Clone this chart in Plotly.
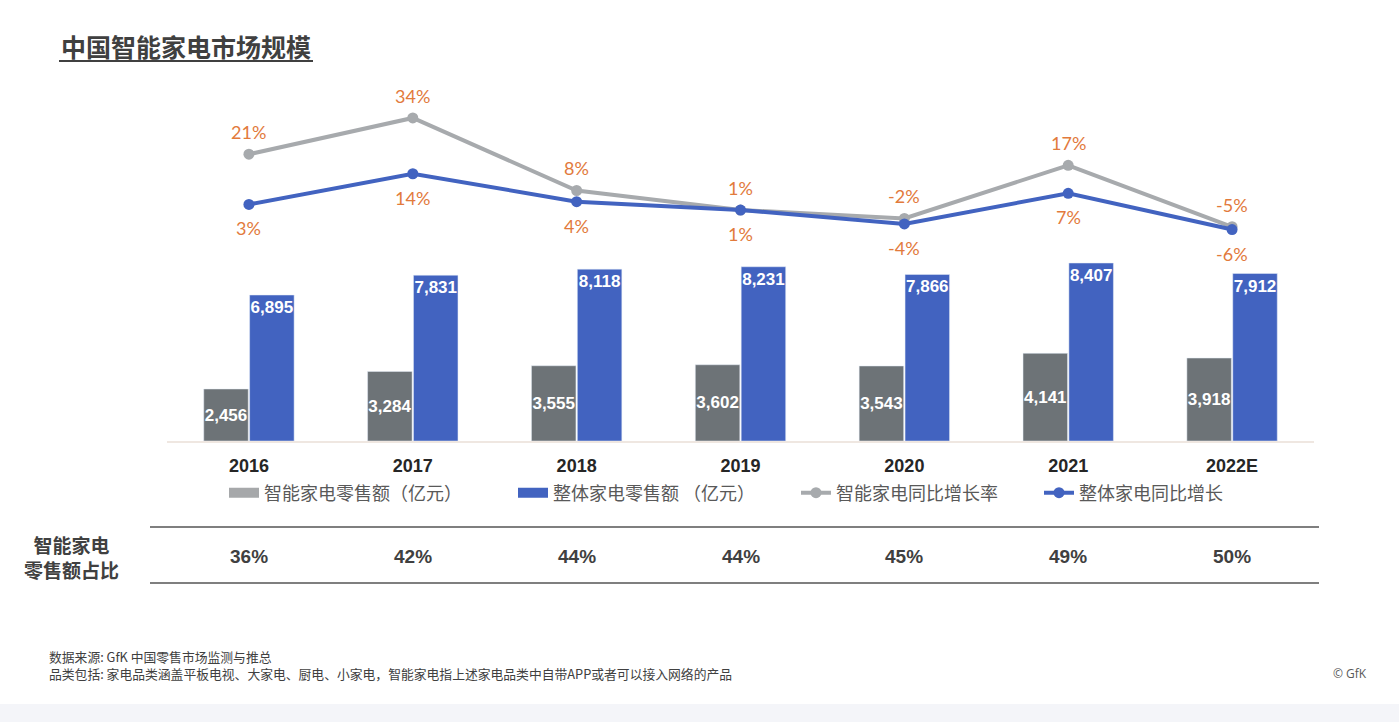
import plotly.graph_objects as go

W, H = 1399, 722

years = ["2016", "2017", "2018", "2019", "2020", "2021", "2022E"]
smart_sales = [2456, 3284, 3555, 3602, 3543, 4141, 3918]
total_sales = [6895, 7831, 8118, 8231, 7866, 8407, 7912]
smart_growth = [21, 34, 8, 1, -2, 17, -5]
total_growth = [3, 14, 4, 1, -4, 7, -6]
smart_share = ["36%", "42%", "44%", "44%", "45%", "49%", "50%"]

GRAY_BAR = "#6D7377"
GRAY_LEG = "#A6A8AA"
BLUE = "#4263C0"
GRAY_LINE = "#A7AAAD"
ORANGE = "#E27A3C"
TXT = "#404040"

def px_x(p):
    return p / W

def px_y(p):
    return 1 - p / H

fig = go.Figure()

bar_font = dict(family="Liberation Sans, Arial", size=17, color="white", weight="bold")
fig.add_trace(go.Bar(
    x=years, y=smart_sales, marker_color=GRAY_BAR, showlegend=False,
    texttemplate="%{y:,.0f}", textposition="inside", insidetextanchor="middle",
    textfont=bar_font, textangle=0,
    constraintext="none", name="智能家电零售额（亿元）", cliponaxis=False,
))
fig.add_trace(go.Bar(
    x=years, y=total_sales, marker_color=BLUE, showlegend=False,
    texttemplate="%{y:,.0f}", textposition="inside", insidetextanchor="end",
    textfont=bar_font, textangle=0,
    constraintext="none", name="整体家电零售额 （亿元）", cliponaxis=False,
))

# legend proxies for the bar series
fig.add_trace(go.Scatter(x=[None], y=[None], mode="lines", name="智能家电零售额（亿元）",
                         line=dict(color=GRAY_LEG, width=12), yaxis="y2", legend="legend"))
fig.add_trace(go.Scatter(x=[None], y=[None], mode="lines", name="整体家电零售额 （亿元）",
                         line=dict(color=BLUE, width=12), yaxis="y2", legend="legend2"))

fig.add_trace(go.Scatter(
    x=years, y=smart_growth, mode="lines+markers", name="智能家电同比增长率",
    line=dict(color=GRAY_LINE, width=4), marker=dict(size=11, color=GRAY_LINE),
    yaxis="y2", cliponaxis=False, legend="legend3",
))
fig.add_trace(go.Scatter(
    x=years, y=total_growth, mode="lines+markers", name="整体家电同比增长",
    line=dict(color=BLUE, width=4), marker=dict(size=11, color=BLUE),
    yaxis="y2", cliponaxis=False, legend="legend4",
))

annotations = []
lab_font = dict(family="Lato, Liberation Sans", size=18, color=ORANGE)
for i, v in enumerate(smart_growth):
    annotations.append(dict(x=i, y=v, xref="x", yref="y2", text=f"{v}%", showarrow=False,
                            yanchor="middle", xanchor="center", yshift=22, font=lab_font))
for i, v in enumerate(total_growth):
    annotations.append(dict(x=i, y=v, xref="x", yref="y2", text=f"{v}%", showarrow=False,
                            yanchor="middle", xanchor="center", yshift=-24, font=lab_font))

# share row
for i, s in enumerate(smart_share):
    annotations.append(dict(x=i, y=px_y(556), xref="x", yref="paper", text=f"<b>{s}</b>",
                            showarrow=False, yanchor="middle", xanchor="center",
                            font=dict(family="Liberation Sans, Arial", size=19, color=TXT)))
annotations.append(dict(x=px_x(71), y=px_y(557), xref="paper", yref="paper",
                        xanchor="center", yanchor="middle",
                        text="<b>智能家电<br>零售额占比</b>", showarrow=False, align="center",
                        font=dict(family="Noto Sans CJK SC", size=19, color=TXT)))

# title
annotations.append(dict(x=px_x(59), y=px_y(46), xref="paper", yref="paper", xanchor="left",
                        yanchor="middle",
                        text="<b>中国智能家电市场规模</b>", showarrow=False,
                        font=dict(family="Noto Sans CJK SC", size=25, color=TXT)))
# footnotes
annotations.append(dict(x=px_x(47), y=px_y(665), xref="paper", yref="paper", xanchor="left",
                        yanchor="middle", align="left", showarrow=False,
                        text="数据来源: GfK 中国零售市场监测与推总<br>品类包括: 家电品类涵盖平板电视、大家电、厨电、小家电，智能家电指上述家电品类中自带APP或者可以接入网络的产品",
                        font=dict(family="Noto Sans CJK SC", size=12.8, color=TXT)))
annotations.append(dict(x=px_x(1369), y=px_y(673), xref="paper", yref="paper", xanchor="right",
                        yanchor="middle", showarrow=False, text="© GfK",
                        font=dict(family="Open Sans", size=12, color="#595959")))

shapes = [
    dict(type="line", xref="paper", yref="paper", x0=px_x(59), x1=px_x(313), y0=px_y(61), y1=px_y(61),
         line=dict(color=TXT, width=2)),
    dict(type="line", xref="paper", yref="paper", x0=px_x(150), x1=px_x(1319), y0=px_y(527), y1=px_y(527),
         line=dict(color="#7F7F7F", width=2)),
    dict(type="line", xref="paper", yref="paper", x0=px_x(150), x1=px_x(1319), y0=px_y(583), y1=px_y(583),
         line=dict(color="#7F7F7F", width=2)),
    dict(type="rect", xref="paper", yref="paper", x0=0, x1=1, y0=0, y1=px_y(704),
         fillcolor="#F4F5F9", line=dict(width=0), layer="below"),
]

leg_common = dict(orientation="h", yanchor="middle", xanchor="left", y=px_y(493),
                  font=dict(family="Noto Sans CJK SC", size=18, color="#595959"),
                  bgcolor="rgba(0,0,0,0)", itemwidth=30)

fig.update_layout(
    width=W, height=H,
    margin=dict(l=0, r=0, t=0, b=0),
    paper_bgcolor="white", plot_bgcolor="rgba(0,0,0,0)",
    barmode="group", bargap=0.44, bargroupgap=0.03,
    xaxis=dict(domain=[px_x(167), px_x(1314)], range=[-0.5, 6.5], type="category",
               showline=True, linecolor="#EFE7E1", linewidth=1.5, ticks="",
               showgrid=False, zeroline=False, ticklabelstandoff=8,
               tickfont=dict(family="Liberation Sans, Arial", size=18, color="#262626", weight="bold")),
    yaxis=dict(domain=[px_y(441), px_y(229.3)], range=[0, 10000], visible=False, showgrid=False),
    yaxis2=dict(domain=[px_y(300), px_y(100)], range=[-31.25, 40.43], visible=False,
                showgrid=False, anchor="x"),
    legend=dict(leg_common, x=px_x(224)),
    legend2=dict(leg_common, x=px_x(513)),
    legend3=dict(leg_common, x=px_x(796)),
    legend4=dict(leg_common, x=px_x(1039)),
    annotations=annotations,
    shapes=shapes,
)

fig.write_html("out.html", config={"displayModeBar": False},
               post_script="document.body.style.margin='0';document.body.style.padding='0';")
